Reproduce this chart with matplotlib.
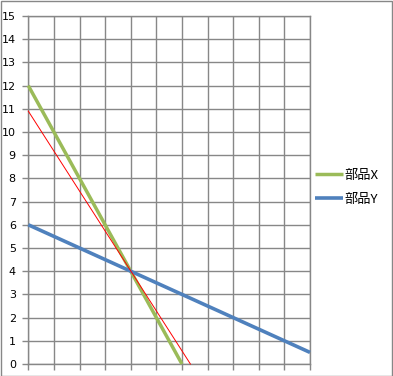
import matplotlib
matplotlib.use("Agg")
import matplotlib.pyplot as plt
from matplotlib.patches import Rectangle

plt.rcParams['font.family'] = ['Noto Sans CJK JP', 'DejaVu Sans']

# data
x_vals = [0, 6]
part_x = [12, 0]
y_x_vals = [0, 11]
part_y = [6, 0.5]
red_x = [0, 6.33]
red_y = [10.9, 0]
series_labels = ['部品X', '部品Y']
y_ticks = list(range(0, 16))

W, H = 393, 376
fig = plt.figure(figsize=(W / 100, H / 100), dpi=100)
ax = fig.add_axes([28.3 / W, 1 - 364 / H, (310 - 28.3) / W, (364 - 16) / H])

grid_c = '#878787'
ax.set_xlim(0, 11)
ax.set_ylim(0, 15)
ax.set_xticks(range(0, 12))
ax.set_xticklabels([])
ax.set_yticks(y_ticks)
ax.set_yticklabels([str(v) for v in y_ticks], fontsize=8, family='DejaVu Sans')
ax.grid(True, color=grid_c, linewidth=1.0)
ax.set_axisbelow(True)
for s in ax.spines.values():
    s.set_color(grid_c)
    s.set_linewidth(1.0)
ax.tick_params(axis='x', length=4, color=grid_c, width=1.0)
ax.tick_params(axis='y', length=4, color=grid_c, width=1.0, pad=5, labelsize=8)

l1, = ax.plot(x_vals, part_x, color='#9BBB59', linewidth=2.5, label=series_labels[0],
              solid_capstyle='butt', clip_on=False, zorder=3)
l2, = ax.plot(y_x_vals, part_y, color='#4F81BD', linewidth=2.6, label=series_labels[1],
              solid_capstyle='butt', clip_on=False, zorder=3)
ax.plot(red_x, red_y, color='#FF0000', linewidth=0.7, clip_on=False, zorder=4)

fig.legend(handles=[l1, l2], labels=series_labels, loc='center left',
           bbox_to_anchor=(315 / W, 1 - 187.5 / H), frameon=False, fontsize=9.5,
           handlelength=2.1, handletextpad=0.1, labelspacing=0.85, borderaxespad=0,
           borderpad=0)

fig.patches.append(Rectangle((0.5 / W, 0.5 / H), (W - 1.5) / W, (H - 1.5) / H,
                             transform=fig.transFigure, fill=False,
                             edgecolor='#878787', linewidth=1.0))

fig.savefig('out.png', dpi=100)
